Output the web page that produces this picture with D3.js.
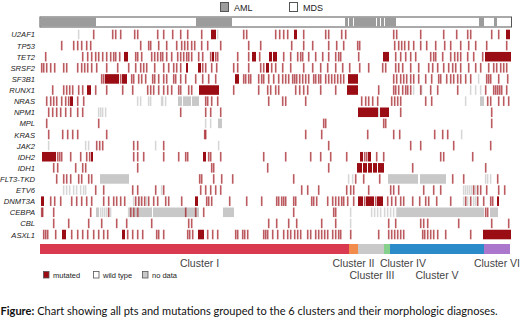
<!DOCTYPE html>
<html>
<head>
<meta charset="utf-8">
<script src="https://cdn.jsdelivr.net/npm/d3@7/dist/d3.min.js"></script>
<style>
  body { margin: 0; background: #fff; }
  text { font-family: "Liberation Sans", Arial, sans-serif; }
</style>
</head>
<body>
<div id="chart"></div>
<script>
const width = 520,
  height = 319;

// patients are ordered by cluster, one column each
const nPatients = 470;

const genes = ["U2AF1", "TP53", "TET2", "SRSF2", "SF3B1", "RUNX1", "NRAS", "NPM1", "MPL", "KRAS",
  "JAK2", "IDH2", "IDH1", "FLT3-TKD", "ETV6", "DNMT3A", "CEBPA", "CBL", "ASXL1"];

// per gene (same order as genes): patient index, or [first, last] run
const mutated = [
  [53, 72, 75, 80, 94, 97, 117, 123, 132, 140, 147, 161, [171, 175], 203, 206, 235, 239, 243, 247, [254, 256], 263, 285, 288, 301, 305, 353, 356, 380, 403, 416, 427, 430, 451, 458, [466, 469]],
  [21, 33, 37, 41, 46, 50, 100, 108, 110, 118, 126, 136, 141, 144, 147, 151, 154, 161, 167, 180, 208, 220, 251, 263, 272, 288, 296, 303, 317, 319, 354, 358, 361, 364, 368, 373, 380, 386, 395, 404, 410, 420, 428, 435, 446, 466],
  [5, 42, 47, 51, 55, 58, 62, 66, 70, 73, 75, 79, [84, 87], 95, 97, 101, 111, 114, 117, 120, 122, 126, 131, 137, 140, 143, 146, 148, 151, 158, 162, 170, [172, 173], 175, 177, 197, 208, [212, 215], 219, [229, 231], [233, 236], 243, 250, 257, 260, 262, 268, 275, 282, 288, 295, 298, 300, 318, [343, 348], 355, 360, 365, 370, 375, 390, 393, 395, 402, 410, 414, 417, 420, 427, 433, 442, [445, 470]],
  [1, 3, 6, 10, 14, 23, 26, 37, 41, 44, 47, 51, 56, 66, 77, 88, 95, 100, 103, 106, 114, 123, 128, 133, 136, 140, [146, 147], [158, 160], 162, 165, 171, 176, 193, 197, 208, 220, 223, [226, 228], 231, 235, 242, 250, 263, 272, 280, 287, 295, 302, 309, 319, 328, 342, 345, 355, 358, 362, 370, 378, 388, 392, 397, 403, 408, 412, 415, 420, 428, 435, 440, 448, 453, 456, 460, 463, 466],
  [61, 63, [65, 78], 80, [82, 86], 91, 93, 98, 101, 105, 112, 114, 118, 123, 126, 133, 135, 140, 145, 155, 162, 168, 175, [195, 198], 203, 205, 208, 210, 218, 221, 223, 228, 233, 238, 242, 245, 248, 252, 254, 256, 259, 262, 265, 268, 273, 275, 278, 280, 285, 288, 291, 294, 297, 300, 303, [308, 317], 353, 356, 360, 363, 366, 370, 373, 378, 385, 391, 398, 400, 406, 410, 413, 417, 420, 425, 430, 446, 448, 450, 458, 467],
  [12, 23, 26, 29, 32, 38, 42, [47, 50], 55, 66, 82, 92, 107, 110, 113, 118, 123, 127, 131, 138, 140, 148, 151, [159, 178], 193, 218, 227, 230, 235, 238, 255, 259, 263, 267, 280, 295, [307, 317], 338, 353, 355, 358, 362, 365, 367, 370, 380, 390, 397, 417, 445, 453, 455, 457, 459, 461, 466],
  [6, 10, 13, 16, 21, 25, 28, [30, 32], 37, 43, 165, 167, 171, 177, 228, 242, 245, 265, 321, 325, 328, 332, 337, 351, 354, 357, 360, 385, 391, 447, 450, 458, 463, 468],
  [8, 12, 16, 20, 25, 30, 37, 42, 140, 165, 170, 180, [318, 337], [340, 348], 360, 451],
  [6, 58, 283, 285, 343, 345, 451],
  [8, 22, 27, 32, 37, 66, 164, 165, 265, 281, 327, 353, 359, 394, 402, 407],
  [56, 59, 62, 93, 97, 123, 288, 370, 380, 413, 450],
  [[2, 15], 17, 19, 21, 30, 40, 46, 49, [51, 52], 93, 97, 103, 123, 138, 145, 147, [163, 165], 168, 170, 180, 223, 245, 270, 280, 290, 306, [320, 322], 324, 326, [328, 330], 336, 343, 400, 403, 432],
  [13, 17, 35, 42, 45, 97, 171, 173, 227, 288, [317, 321], [323, 326], [328, 331], [333, 336], [338, 343], 372, 445],
  [16, 23, 26, 30, 38, 41, 48, 51, 159, 161, 173, 181, 192, 253, 315, 323, 339, 412, 423, 457],
  [55, 63, 92, 97, 115, 123, 160, 165, 170, 175, 180, 261, 267, 278, 306, 310, 313, 328, 350, 353, 358, 383, 393, 400, 433, 437, 440, 446, 458, 464],
  [[1, 3], 10, 14, 20, 31, 36, 41, 46, 51, 63, 68, 73, 76, 80, 84, 95, 98, 101, 104, 108, 113, 117, 125, 128, 141, [155, 157], 166, 168, 171, 189, 206, 221, 236, 238, 241, 243, 245, 253, 255, 271, 273, 276, 287, 292, 295, 298, 301, 303, 307, 313, [318, 322], 324, [326, 333], 335, [337, 342], 347, 351, 355, 360, 363, 372, 379, 385, 388, 396, 410, 425, 430, 437, 443, 450, 452, [457, 458]],
  [1, 2, 13, 50, 68, 90, 93, 97, 145, 155, 163, 253, 293, 295, 445, 447],
  [13, 28, 48, 61, 76, 86, 111, 148, 151, 228, 236, 248, 256, 281, 295, 348, 355, 380, 383, 387, 418, 451, 468],
  [3, 5, 7, 15, [22, 25], 31, 37, 42, 47, 53, 58, 63, 67, [82, 84], 87, 92, 97, 102, 116, 118, 123, 147, 149, 152, [158, 163], 167, 172, 177, 195, 197, 202, 204, 207, 223, 225, 227, 232, 237, 243, 247, 250, 254, 257, 260, 267, 270, 275, 278, 281, 284, 287, 292, 295, 298, 300, 310, 338, 348, 351, 354, 357, 360, 363, 382, 384, 387, 390, 393, 397, 405, 430, [443, 470]]
];

const noData = [
  [38, 177],
  [],
  [],
  [],
  [438],
  [373, 381, 430, 435, 440],
  [97, 100, 108, 110, 121, 122, 125, [138, 141], [143, 150], [152, 158], 425, [440, 443]],
  [58, 60, 62, 65, 338],
  [165, 170, [178, 181]],
  [421],
  [8, 45, 48, 115, 178],
  [],
  [],
  [[60, 88], 308, 312, [348, 377], [380, 405], 445, 447, 450],
  [23, 26, 29, 33, 36, 40, 43, 45, 121, 423, 425, 427, 429, 431, 435],
  [93, 99, 106, 423, 427, 433, 435],
  [[56, 58], 60, 62, 64, 66, 70, 88, 89, 91, 92, [94, 96], [98, 111], [113, 158], [183, 193], 310, 331, 334, 337, 340, 344, 347, 350, 353, 356, [357, 443], [450, 457]],
  [310],
  []
];

// morphologic diagnosis: AML runs, everything else MDS
const amlRanges = [[0, 55], [156, 191], [305, 307], [309, 312], [314, 335], [337, 339], [341, 343], [345, 355], [439, 443], [454, 456]];

const clusterNames = ["Cluster I", "Cluster II", "Cluster III", "Cluster IV", "Cluster V", "Cluster VI"];
const clusterStarts = [0, 309, 318, 344, 350, 444];
const clusterEnds = [309, 318, 344, 350, 444, 470];

const clusterColors = ["#d93a4f", "#f28c4c", "#c9c9c9", "#86d08e", "#2b8bc9", "#ab77cc"];
const mutColor = "#9b0d14",
  ndColor = "#c8c8c8";

const svg = d3.select("#chart")
  .append("svg")
  .attr("width", width)
  .attr("height", height);

const x = d3.scaleLinear().domain([0, nPatients]).range([40, 510]);
const y = d3.scaleBand().domain(genes).range([29.7, 239.3]).paddingInner(0.14);

// turn entries into runs [a, b]
function toRuns(list) {
  return list.map(d => Array.isArray(d) ? d : [d, d]);
}

// top bar: AML / MDS
svg.append("rect")
  .attr("x", x(0))
  .attr("y", 17)
  .attr("width", x(nPatients) - x(0) + 1.5)
  .attr("height", 10)
  .attr("fill", "#fff")
  .attr("stroke", "#555")
  .attr("stroke-width", 1);

svg.append("g").selectAll("rect")
  .data(amlRanges)
  .enter()
  .append("rect")
  .attr("x", d => x(d[0]))
  .attr("y", 17.5)
  .attr("width", d => x(d[1] + 1) - x(d[0]))
  .attr("height", 9)
  .attr("fill", "#9c9c9c");

// top legend
const topLegend = [["AML", "#9c9c9c", 220], ["MDS", "#fff", 289]];
topLegend.forEach(([label, fill, lx]) => {
  svg.append("rect")
    .attr("x", lx + 0.5).attr("y", 2.5)
    .attr("width", 8).attr("height", 9)
    .attr("fill", fill).attr("stroke", "#555");
  svg.append("text")
    .attr("x", lx + 14).attr("y", 11)
    .style("font-size", "9px")
    .attr("fill", "#222")
    .text(label);
});

// gene rows
genes.forEach((gene, gi) => {
  const row = svg.append("g");
  const top = y(gene),
    bh = y.bandwidth();

  toRuns(noData[gi]).forEach(([a, b]) => {
    const single = a === b;
    row.append("rect")
      .attr("x", single ? x(a) - 0.1 : x(a))
      .attr("y", top)
      .attr("width", single ? 1.5 : x(b + 1) - x(a))
      .attr("height", bh)
      .attr("fill", ndColor)
      .attr("fill-opacity", single ? 0.75 : 1);
  });

  toRuns(mutated[gi]).forEach(([a, b]) => {
    const single = a === b;
    row.append("rect")
      .attr("x", single ? x(a) - 0.1 : x(a))
      .attr("y", top)
      .attr("width", single ? 1.6 : x(b + 1) - x(a))
      .attr("height", bh)
      .attr("fill", mutColor)
      .attr("fill-opacity", single ? 0.68 : 1);
  });

  svg.append("text")
    .attr("x", 35)
    .attr("y", top + bh / 2 + 3)
    .attr("text-anchor", "end")
    .style("font-size", "7.6px")
    .style("font-style", "italic")
    .attr("fill", "#222")
    .text(gene);
});

// cluster bar
svg.append("g").selectAll("rect")
  .data(clusterNames)
  .enter()
  .append("rect")
  .attr("x", (d, i) => x(clusterStarts[i]))
  .attr("y", 244)
  .attr("width", (d, i) => x(clusterEnds[i]) - x(clusterStarts[i]))
  .attr("height", 10)
  .attr("fill", (d, i) => clusterColors[i]);

const labelRow = [0, 0, 1, 0, 1, 0];
const labelShift = [5, 0, 1, 16, 0, 0];
svg.append("g").selectAll("text")
  .data(clusterNames)
  .enter()
  .append("text")
  .attr("x", (d, i) => (x(clusterStarts[i]) + x(clusterEnds[i])) / 2 + labelShift[i])
  .attr("y", (d, i) => 266.5 + labelRow[i] * 12)
  .attr("text-anchor", "middle")
  .style("font-size", "10.5px")
  .attr("fill", "#444")
  .text(d => d);

// bottom legend
const legendItems = [["mutated", mutColor, 43], ["wild type", "#fff", 93], ["no data", ndColor, 142]];
legendItems.forEach(([label, fill, lx]) => {
  svg.append("rect")
    .attr("x", lx + 0.5).attr("y", 271.5)
    .attr("width", 5.5).attr("height", 6.5)
    .attr("fill", fill).attr("stroke", "#555").attr("stroke-width", 0.8);
  svg.append("text")
    .attr("x", lx + 10).attr("y", 278)
    .style("font-size", "7.5px")
    .attr("fill", "#222")
    .text(label);
});

// caption, fitted to its width in the reference
const caption = svg.append("text")
  .attr("x", 0.5)
  .attr("y", 314.5)
  .style("font-family", "Lato, 'Open Sans', sans-serif")
  .style("font-size", "10px")
  .attr("fill", "#111");
caption.append("tspan").style("font-weight", "bold").text("Figure:");
caption.append("tspan").text(" Chart showing all pts and mutations grouped to the 6 clusters and their morphologic diagnoses.");
const capLen = caption.node().getComputedTextLength();
caption.style("font-size", (10 * 497 / capLen).toFixed(2) + "px");
</script>
</body>
</html>
